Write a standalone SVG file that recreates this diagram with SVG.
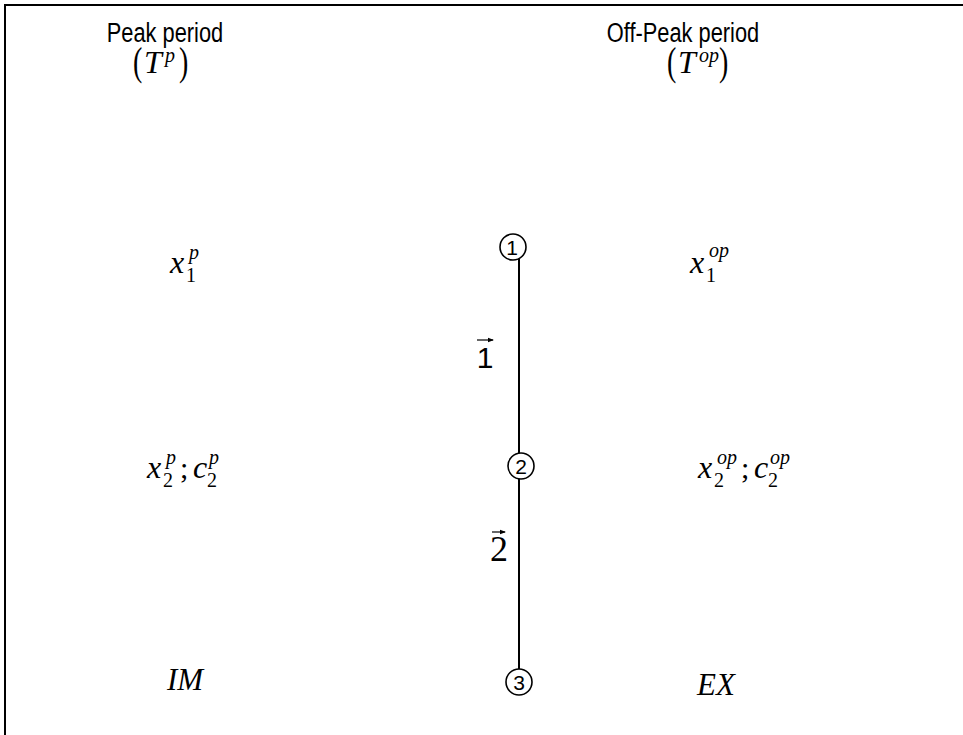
<svg xmlns="http://www.w3.org/2000/svg" width="963" height="735" viewBox="0 0 963 735">
<style>
.hd{font-family:"Liberation Sans",Arial,sans-serif;font-size:28px;fill:#000}
.m{font-family:"Liberation Serif","Times New Roman","DejaVu Serif",serif;font-style:italic;font-size:32px;fill:#000}
.s{font-family:"Liberation Serif","Times New Roman","DejaVu Serif",serif;font-style:italic;font-size:20px;fill:#000}
.su{font-family:"Liberation Serif","Times New Roman","DejaVu Serif",serif;font-size:20px;fill:#000}
.sc{font-family:"Liberation Serif","Times New Roman","DejaVu Serif",serif;font-size:30px;fill:#000}
.el2{font-family:"Liberation Serif","Times New Roman","DejaVu Serif",serif;font-size:36px;fill:#000}
.el1{font-family:"Liberation Sans",Arial,sans-serif;font-size:30px;fill:#000}
.par{font-family:"Liberation Serif","Times New Roman","DejaVu Serif",serif;font-size:40px;fill:#000}
.big{font-family:"Liberation Serif","Times New Roman","DejaVu Serif",serif;font-style:italic;font-size:31px;fill:#000}
.nd circle{fill:#fff;stroke:#000;stroke-width:1.6}
.nd text{font-family:"Liberation Sans",Arial,sans-serif;font-size:21px;fill:#000;text-anchor:middle}
.cn{stroke:#000;stroke-width:2;fill:none}
.ar{stroke:#000;stroke-width:1.2;fill:none}
</style>
<defs>
<marker id="ah" markerWidth="6" markerHeight="6" refX="5" refY="3" orient="auto" markerUnits="userSpaceOnUse">
<path d="M0,0.8 L6,3 L0,5.2 z" fill="#000"/>
</marker>
</defs>
<rect width="963" height="735" fill="#fff"/>
<path d="M5,735 V5 H963" fill="none" stroke="#000" stroke-width="2"/>

<g id="peak">
<text class="hd" transform="translate(165,42) scale(0.78,1)" text-anchor="middle">Peak period</text>
<text class="par" transform="translate(133,75) scale(0.7,1)">(</text>
<text class="m" x="144" y="73" font-size="30">T</text>
<text class="s" x="165" y="62">p</text>
<text class="par" transform="translate(179,75) scale(0.7,1)">)</text>
</g>

<g id="offpeak">
<text class="hd" transform="translate(683,42) scale(0.78,1)" text-anchor="middle">Off-Peak period</text>
<text class="par" transform="translate(667,75) scale(0.7,1)">(</text>
<text class="m" x="678" y="73" font-size="30">T</text>
<text class="s" x="699" y="62">op</text>
<text class="par" transform="translate(719,75) scale(0.7,1)">)</text>
</g>

<g id="x1p">
<text class="m" x="170" y="273">x</text>
<text class="su" x="186" y="282">1</text>
<text class="s" x="189" y="259">p</text>
</g>
<g id="x1op">
<text class="m" x="690" y="273">x</text>
<text class="su" x="706" y="282">1</text>
<text class="s" x="709" y="257">op</text>
</g>
<g id="x2p">
<text class="m" x="147" y="478">x</text>
<text class="su" x="163" y="487">2</text>
<text class="s" x="166" y="464">p</text>
<text class="sc" x="180" y="478">;</text>
<text class="m" x="193" y="478">c</text>
<text class="su" x="207" y="487">2</text>
<text class="s" x="209" y="464">p</text>
</g>
<g id="x2op">
<text class="m" x="698" y="478">x</text>
<text class="su" x="714" y="487">2</text>
<text class="s" x="717" y="464">op</text>
<text class="sc" x="741" y="478">;</text>
<text class="m" x="754" y="478">c</text>
<text class="su" x="768" y="487">2</text>
<text class="s" x="770" y="464">op</text>
</g>
<g id="im"><text class="big" x="167" y="690">IM</text></g>
<g id="ex"><text class="big" x="697" y="695">EX</text></g>

<g id="connectors">
<path class="cn" d="M519,256 V453"/>
<path class="cn" d="M519,479 V669"/>
</g>

<g id="edge1-label">
<path class="ar" d="M477,340 H493" marker-end="url(#ah)"/>
<text class="el1" x="485" y="368" text-anchor="middle">1</text>
</g>
<g id="edge2-label">
<path class="ar" d="M492,532 H505" marker-end="url(#ah)"/>
<text class="el2" x="499" y="561" text-anchor="middle">2</text>
</g>

<g id="n1" class="nd"><circle cx="513" cy="247" r="13"/><text x="512" y="255">1</text></g>
<g id="n2" class="nd"><circle cx="521" cy="466" r="13"/><text x="521" y="474">2</text></g>
<g id="n3" class="nd"><circle cx="519" cy="682" r="13"/><text x="519" y="690">3</text></g>
</svg>
